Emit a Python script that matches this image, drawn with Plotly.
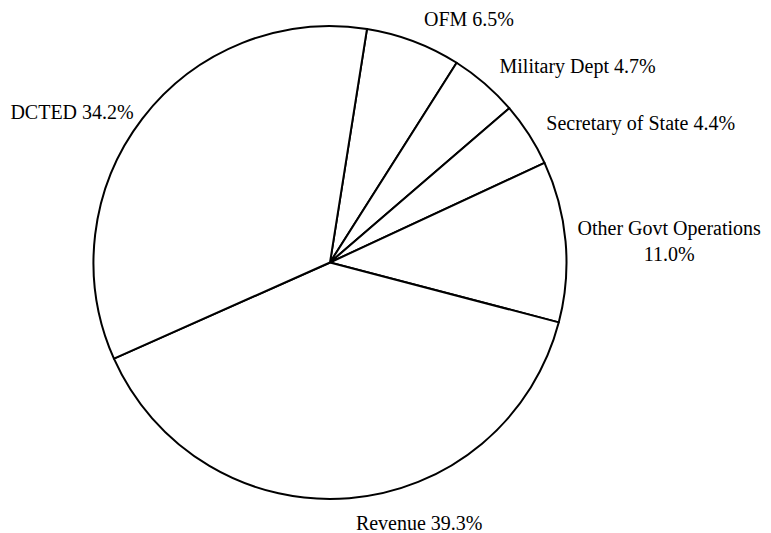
import plotly.graph_objects as go

labels = ["OFM", "Military Dept", "Secretary of State", "Other Govt Operations", "Revenue", "DCTED"]
values = [6.5, 4.7, 4.4, 11.0, 39.3, 34.2]

texts = []
for lab, v in zip(labels, values):
    sep = "<br>" if len(lab) > 20 else " "
    texts.append(f"{lab}{sep}{v:.1f}%")

# ---- layout geometry (pixels) ----
W, H = 771, 533
M_T, M_B = 4, 28
PLOT_H = H - M_T - M_B
CX, CY = 322, 254.5          # pie centre in figure pixels
R = 236.5                    # visible pie radius

def domain_for(r):
    return dict(x=[(CX - r) / W, (CX + r) / W],
                y=[0.5 - r / PLOT_H, 0.5 + r / PLOT_H])

# how far beyond the rim each label sits (pixels)
label_gap = {"OFM": 14, "Military Dept": 14, "Secretary of State": 14,
             "Other Govt Operations": 0, "Revenue": 14, "DCTED": 4}

FONT = dict(family="Liberation Serif, Times New Roman, serif", size=20, color="black")

common = dict(
    labels=labels,
    values=values,
    texttemplate="%{text}",
    textposition="outside",
    sort=False,
    direction="clockwise",
    rotation=9,
    textfont=FONT,
    outsidetextfont=FONT,
    showlegend=False,
    automargin=False,
)

fig = go.Figure()

# transparent label-carrier pies (same slices, larger radius) for the labels
for gap in sorted(set(label_gap.values()), reverse=True):
    if gap == 0:
        continue
    fig.add_trace(go.Pie(
        text=[t if label_gap[lab] == gap else "" for lab, t in zip(labels, texts)],
        marker=dict(colors=["rgba(0,0,0,0)"] * len(values), line=dict(width=0)),
        hoverinfo="skip",
        domain=domain_for(R + gap),
        **common,
    ))

# the visible pie
fig.add_trace(go.Pie(
    text=[t if label_gap[lab] == 0 else "" for lab, t in zip(labels, texts)],
    marker=dict(colors=["white"] * len(values), line=dict(color="black", width=2)),
    hoverinfo="label+percent",
    domain=domain_for(R),
    **common,
))

fig.update_layout(
    width=W, height=H,
    margin=dict(l=0, r=0, t=M_T, b=M_B, autoexpand=False),
    paper_bgcolor="white",
    plot_bgcolor="white",
)

fig.write_html("out.html")
